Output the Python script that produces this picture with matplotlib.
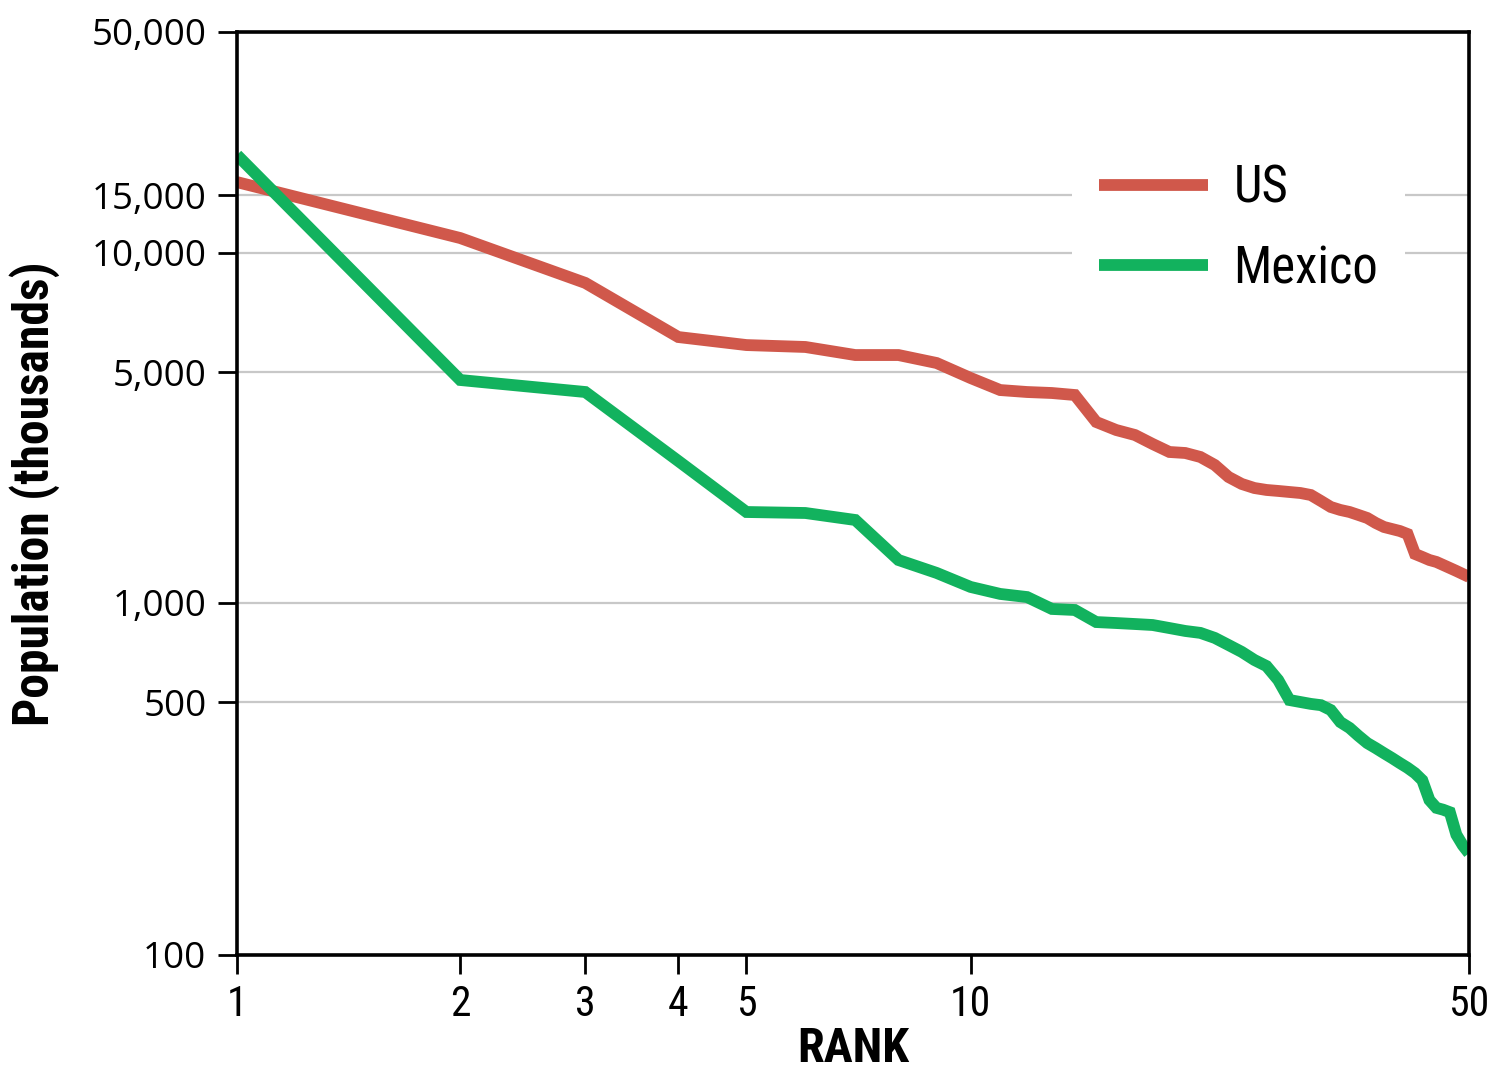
import numpy as np
import matplotlib
matplotlib.use("Agg")
import matplotlib.pyplot as plt
import matplotlib.font_manager as fm
from matplotlib.font_manager import FontProperties
from matplotlib.ticker import FixedLocator, FixedFormatter, NullLocator

# ---------------- data ----------------
ranks = list(range(1, 51))
us_pop = [16500, 11100, 8400, 6130, 5850, 5785, 5520, 5520, 5270, 4795,
          4410, 4350, 4320, 4260, 3530, 3338, 3224, 3028, 2864, 2844,
          2766, 2616, 2406, 2292, 2228, 2198, 2183, 2167, 2152, 2122,
          2035, 1952, 1912, 1885, 1846, 1808, 1746, 1698, 1674, 1651,
          1617, 1407, 1378, 1349, 1331, 1303, 1276, 1250, 1224, 1199]
mexico_pop = [20160, 4730, 4350, 2690, 1885, 1872, 1783, 1349, 1233, 1118,
              1065, 1042, 959, 952, 875, 869, 863, 857, 839, 822,
              811, 783, 745, 710, 671, 643, 583, 507, 500, 494,
              490, 475, 440, 424, 403, 385, 373, 361, 350, 339,
              329, 318, 304, 268, 255, 252, 248, 215, 201, 191]
series_names = ["US", "Mexico"]
x_ticks = [1, 2, 3, 4, 5, 10, 50]
x_tick_labels = ["1", "2", "3", "4", "5", "10", "50"]
y_ticks = [100, 500, 1000, 5000, 10000, 15000, 50000]
y_tick_labels = ["100", "500", "1,000", "5,000", "10,000", "15,000", "50,000"]

# The reference axis is log-like but its ticks are not evenly spaced in log;
# reproduce its spacing with a piecewise-log FuncScale (fraction of axis length).
x_tick_frac = [0.0, 0.1812, 0.2827, 0.3582, 0.4135, 0.5955, 1.0]
y_tick_frac = [0.0, 0.2741, 0.3814, 0.6316, 0.7606, 0.8234, 1.0]


def piecewise_log(vals, fracs):
    lv = np.log10(np.asarray(vals, float))
    fr = np.asarray(fracs, float)
    s0 = (fr[1] - fr[0]) / (lv[1] - lv[0])
    s1 = (fr[-1] - fr[-2]) / (lv[-1] - lv[-2])

    def fwd(x):
        x = np.asarray(x, float)
        l = np.log10(np.clip(x, 1e-12, None))
        out = np.interp(l, lv, fr)
        out = np.where(l < lv[0], fr[0] + (l - lv[0]) * s0, out)
        out = np.where(l > lv[-1], fr[-1] + (l - lv[-1]) * s1, out)
        return out

    def inv(f):
        f = np.asarray(f, float)
        out = np.interp(f, fr, lv)
        out = np.where(f < fr[0], lv[0] + (f - fr[0]) / s0, out)
        out = np.where(f > fr[-1], lv[-1] + (f - fr[-1]) / s1, out)
        return 10 ** out

    return fwd, inv


# ---------------- fonts: look for an installed condensed sans ----------------
def _weight(e):
    w = e.weight
    if isinstance(w, str):
        w = fm.weight_dict.get(w, 400)
    return int(w)


def find_condensed(target_weight):
    prefs = ["Liberation Sans Narrow", "Roboto Condensed", "Open Sans Condensed",
             "Noto Sans", "DejaVu Sans", "Open Sans", "Roboto", "Lato", "Inter",
             "Liberation Sans"]
    best, best_key = None, None
    for e in fm.fontManager.ttflist:
        fn = e.fname.lower()
        if "[" in fn or e.style != "normal":
            continue
        st = str(e.stretch).lower()
        cond = (st in ("condensed", "semi-condensed")) or ("narrow" in fn) or \
               ("condensed" in fn and "extra" not in fn and "ultra" not in fn
                and "semi" not in fn) or ("Narrow" in e.name) or ("Condensed" in e.name)
        if not cond:
            continue
        fam_idx = prefs.index(e.name) if e.name in prefs else len(prefs)
        key = (abs(_weight(e) - target_weight), fam_idx)
        if best_key is None or key < best_key:
            best, best_key = e, key
    if best is not None and abs(_weight(best) - target_weight) <= 150:
        return best.fname
    return None


reg_file = find_condensed(400)
bold_file = find_condensed(700)


def fprop(fname, size, bold=False):
    if fname:
        return FontProperties(fname=fname, size=size)
    return FontProperties(family="DejaVu Sans", weight="bold" if bold else "normal",
                          size=size)


W, H = 1497, 1073
fig = plt.figure(figsize=(W / 100, H / 100), dpi=100)
renderer = fig.canvas.get_renderer()


def fit(text, fname, bold, target_px, base=30.0):
    t = fig.text(0, 0, text, fontproperties=fprop(fname, base, bold))
    w = t.get_window_extent(renderer).width
    t.remove()
    return base * target_px / w


fp_xtick = fprop(reg_file, 30 if reg_file else 24)
fp_legend = fprop(reg_file, fit("Mexico", reg_file, False, 145))
fp_xlabel = fprop(bold_file, fit("RANK", bold_file, True, 112), True)
fp_ylabel = fprop(bold_file, fit("Population (thousands)", bold_file, True, 465), True)
fp_ytick = FontProperties(family=["Open Sans", "DejaVu Sans"], size=26.5)

# ---------------- axes ----------------
ax = fig.add_axes([237 / W, (H - 955) / H, (1469 - 237) / W, (955 - 32) / H])
ax.set_xscale("function", functions=piecewise_log(x_ticks, x_tick_frac))
ax.set_yscale("function", functions=piecewise_log(y_ticks, y_tick_frac))
ax.set_xlim(1, 50)
ax.set_ylim(100, 50000)

red = "#d0584b"
green = "#12b25e"
ax.plot(ranks, us_pop, color=red, lw=8.5, solid_joinstyle="miter",
        solid_capstyle="butt", label=series_names[0], zorder=3)
ax.plot(ranks, mexico_pop, color=green, lw=8.5, solid_joinstyle="miter",
        solid_capstyle="butt", label=series_names[1], zorder=3)

ax.xaxis.set_major_locator(FixedLocator(x_ticks))
ax.xaxis.set_major_formatter(FixedFormatter(x_tick_labels))
ax.yaxis.set_major_locator(FixedLocator(y_ticks))
ax.yaxis.set_major_formatter(FixedFormatter(y_tick_labels))
ax.xaxis.set_minor_locator(NullLocator())
ax.yaxis.set_minor_locator(NullLocator())

ax.tick_params(axis="both", direction="out", length=14, width=2, color="black")
ax.tick_params(axis="x", pad=7)
ax.tick_params(axis="y", pad=8)
for lab in ax.get_xticklabels():
    lab.set_fontproperties(fp_xtick)
for lab in ax.get_yticklabels():
    lab.set_fontproperties(fp_ytick)

for sp in ax.spines.values():
    sp.set_linewidth(2.6)
    sp.set_color("black")
    sp.set_zorder(4)

ax.grid(axis="y", color="#c8c8c8", lw=1.6, zorder=1)
ax.set_axisbelow(True)

ax.set_xlabel("RANK", fontproperties=fp_xlabel, va="baseline")
ax.xaxis.set_label_coords(0.5, (955 - 1062) / 923)
ax.set_ylabel("Population (thousands)", fontproperties=fp_ylabel, va="center")
ax.yaxis.set_label_coords((35 - 237) / 1232, 0.5)

leg = ax.legend(loc="upper left", bbox_to_anchor=(0.678, 0.886), frameon=True,
                fancybox=False, edgecolor="none", facecolor="white", framealpha=1,
                prop=fp_legend, handlelength=2.15, handletextpad=0.5,
                labelspacing=0.6, borderpad=0.52, borderaxespad=0)
leg.set_zorder(5)
for line in leg.get_lines():
    line.set_linewidth(8.5)
    line.set_solid_capstyle("butt")

fig.savefig("out.png", dpi=100, facecolor="white")
